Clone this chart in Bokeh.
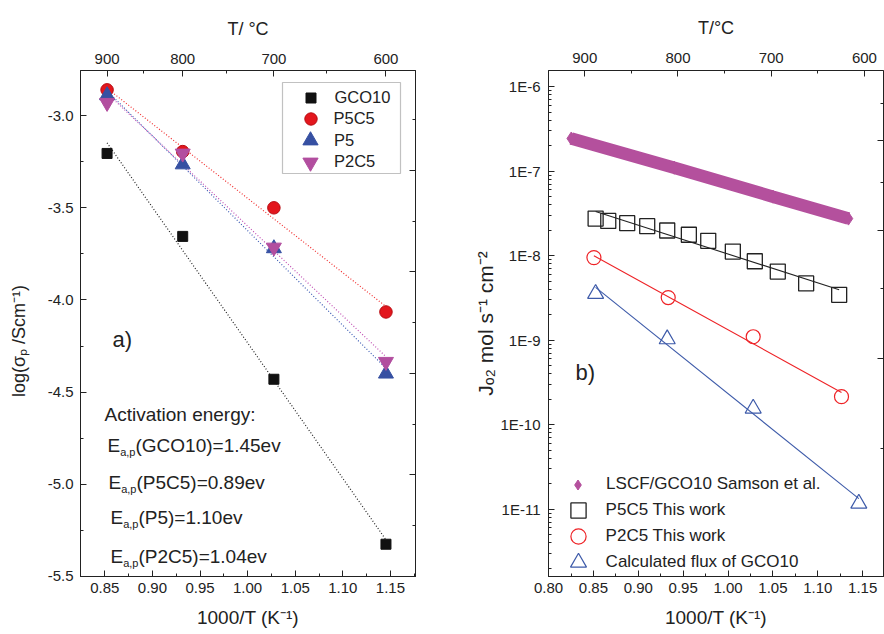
import numpy as np
from bokeh.plotting import figure
from bokeh.layouts import row
from bokeh.models import (Range1d, LinearAxis, FixedTicker, SingleIntervalTicker,
                          CustomJSTickFormatter, NumeralTickFormatter, Label, Legend,
                          LegendItem, BoxAnnotation)
from bokeh.embed import file_html
from bokeh.resources import INLINE

# ---------------- data: panel a ----------------
temps_a = [900, 800, 700, 600]                 # measuring temperatures (deg C)
gco10_log = [-3.205, -3.655, -4.43, -5.325]
p5c5_log = [-2.86, -3.195, -3.50, -4.065]
p5_log = [-2.89, -3.265, -3.72, -4.40]
p2c5_log = [-2.93, -3.205, -3.715, -4.335]
names_a = ["GCO10", "P5C5", "P5", "P2C5"]
ea_values = ["1.45", "0.89", "1.10", "1.04"]
top_major_T = [900, 800, 700, 600]
top_minor_T = [850, 750, 650]

# ---------------- data: panel b ----------------
lscf_x = [0.8253, 0.94, 1.05, 1.1341]
lscf_J = [2.44e-7, 1.1e-7, 5.0e-8, 2.75e-8]
p5c5_x = [0.8524, 0.8665, 0.8876, 0.9099, 0.9322, 0.9563, 0.9779, 1.0053,
          1.0298, 1.0554, 1.0870, 1.1238]
p5c5_J = [2.75e-8, 2.58e-8, 2.43e-8, 2.24e-8, 1.99e-8, 1.77e-8, 1.50e-8,
          1.12e-8, 8.6e-9, 6.5e-9, 4.7e-9, 3.45e-9]
p2c5_x = [0.8505, 0.9333, 1.028, 1.1264]
p2c5_J = [9.5e-9, 3.2e-9, 1.1e-9, 2.15e-10]
gco_x = [0.8524, 0.9322, 1.028, 1.1457]
gco_J = [3.55e-9, 1.03e-9, 1.56e-10, 1.17e-11]
names_b = ["LSCF/GCO10 Samson et al.", "P5C5 This work", "P2C5 This work",
           "Calculated flux of GCO10"]
decades_b = [-11, -10, -9, -8, -7, -6]

# ---------------- styling / layout constants ----------------
FONT = "Liberation Sans"
INK = "#222222"
NB = "\u00a0"

WID = {' ': 278, '(': 333, ')': 333, '/': 278, '-': 333, '.': 278, ',': 278, '=': 584,
       ':': 278, 'A': 667, 'C': 722, 'E': 667, 'G': 778, 'O': 778, 'P': 667,
       'a': 556, 'c': 500, 'e': 556, 'g': 556, 'i': 222, 'n': 556, 'o': 556, 'p': 556,
       'r': 333, 't': 278, 'v': 500, 'y': 500}


def tw(text, size):
    return sum(WID.get(c, 556) for c in text) * size / 1000.0


def rich(p, pieces, x, y, color=INK):
    adv = 0.0
    for text, size, shift in pieces:
        p.add_layout(Label(x=x + adv, y=y + shift, x_units="screen", y_units="screen",
                           text=text, text_font=FONT, text_font_size=f"{size}px",
                           text_color=color, text_align="left",
                           text_baseline="alphabetic"))
        adv += tw(text, size)


def fa(rx, ry):
    return rx - 80, 576 - ry


def fb(rx, ry):
    return (rx - 548) * 335 / 336.0, 576 - ry


def style_axis(ax, standoff=7):
    ax.major_tick_in = 6
    ax.major_tick_out = 0
    ax.minor_tick_in = 3
    ax.minor_tick_out = 0
    ax.axis_line_color = INK
    ax.major_tick_line_color = INK
    ax.minor_tick_line_color = INK
    ax.major_label_text_font = FONT
    ax.major_label_text_font_size = "15px"
    ax.major_label_text_color = INK
    ax.major_label_standoff = standoff
    ax.axis_label_text_font = FONT
    ax.axis_label_text_font_style = "normal"
    ax.axis_label_text_font_size = "18px"
    ax.axis_label_text_color = INK


def hidden_right_axis(p, top):
    p.extra_y_ranges = {"r": Range1d(0, top)}
    ax = LinearAxis(y_range_name="r", ticker=SingleIntervalTicker(interval=1, num_minor_ticks=2))
    style_axis(ax, standoff=0)
    ax.major_label_overrides = {0: "", 1: "", 2: "", 3: "", 4: ""}
    ax.major_label_text_alpha = 0
    ax.major_label_text_font_size = "1px"
    p.add_layout(ax, "right")


def single_legend(p, renderer, label, cx, cy, msize, text_x, font_size):
    g = int(round(msize / 0.4))
    leg = Legend(items=[LegendItem(label=label, renderers=[renderer])],
                 location=(cx - g / 2.0, cy - g / 2.0),
                 glyph_width=g, glyph_height=g, label_height=g,
                 label_standoff=max(int(round(text_x - (cx + g / 2.0))), 0),
                 padding=0, margin=0, spacing=0,
                 border_line_color=None, background_fill_alpha=0,
                 label_text_font=FONT, label_text_font_size=font_size,
                 label_text_color=INK)
    p.add_layout(leg)


def fit_line(x, y, log=False):
    x = np.asarray(x, dtype=float)
    yy = np.log10(y) if log else np.asarray(y, dtype=float)
    k, b = np.polyfit(x, yy, 1)
    xs = np.array([x.min(), x.max()])
    ys = k * xs + b
    return xs, (10 ** ys if log else ys)


def base_fig(p):
    p.xgrid.visible = False
    p.ygrid.visible = False
    p.outline_line_color = INK
    p.background_fill_color = "white"
    p.border_fill_color = "white"


# =============== panel a ===============
inv_T_a = [1000.0 / (t + 273.15) for t in temps_a]

pa = figure(width=440, height=634, x_range=Range1d(0.8245, 1.1763),
            y_range=Range1d(-5.5001, -2.755), output_backend="svg",
            toolbar_location=None, min_border_left=80, min_border_right=25,
            min_border_top=70, min_border_bottom=58)
base_fig(pa)

style_axis(pa.xaxis[0], standoff=6)
pa.xaxis[0].ticker = SingleIntervalTicker(interval=0.05, num_minor_ticks=2)
pa.xaxis[0].formatter = NumeralTickFormatter(format="0.00")
pa.xaxis[0].axis_label = "1000/T (K\u207b\u00b9)"
pa.xaxis[0].axis_label_text_font_size = "19px"
pa.xaxis[0].axis_label_standoff = 11
style_axis(pa.yaxis[0], standoff=7)
pa.yaxis[0].ticker = SingleIntervalTicker(interval=0.5, num_minor_ticks=2)
pa.yaxis[0].formatter = NumeralTickFormatter(format="0.0")
pa.yaxis[0].axis_label = "log(\u03c3\u209a /Scm\u207b\u00b9)" + NB * 7
pa.yaxis[0].axis_label_standoff = 16

top_a = LinearAxis(ticker=FixedTicker(ticks=[1000.0 / (t + 273.15) for t in top_major_T],
                                      minor_ticks=[1000.0 / (t + 273.15) for t in top_minor_T]),
                   formatter=CustomJSTickFormatter(code="return (1000/tick - 273.15).toFixed(0);"),
                   axis_label="T/ \u00b0C")
style_axis(top_a, standoff=7)
top_a.axis_label_standoff = 12
pa.add_layout(top_a, "above")
hidden_right_axis(pa, 4.985)

cols_a = ["#111111", "#e3161d", "#3650a2", "#b24e9f"]
line_cols_a = ["#222222", "#f03030", "#3c5cb4", "#c050b4"]
series_a = [gco10_log, p5c5_log, p5_log, p2c5_log]
for ys, lc in zip(series_a, line_cols_a):
    xs_f, ys_f = fit_line(inv_T_a, ys)
    pa.line(xs_f, ys_f, line_color=lc, line_width=1.2, line_dash="1 2")

r_gco = pa.scatter(inv_T_a, gco10_log, marker="square", size=10,
                   fill_color=cols_a[0], line_color=cols_a[0])
r_p5c5 = pa.scatter(inv_T_a, p5c5_log, marker="circle", size=12.5,
                    fill_color=cols_a[1], line_color="#b80c12")
r_p5 = pa.scatter(inv_T_a, p5_log, marker="triangle", size=15,
                  fill_color=cols_a[2], line_color=cols_a[2])
r_p2c5 = pa.scatter(inv_T_a, p2c5_log, marker="inverted_triangle", size=15,
                    fill_color=cols_a[3], line_color=cols_a[3])

# legend box + items
bl, bb = fa(282, 173)
br, bt = fa(400, 82)
pa.add_layout(BoxAnnotation(left=bl, right=br, bottom=bb, top=bt,
                            left_units="screen", right_units="screen",
                            bottom_units="screen", top_units="screen",
                            fill_color="white", fill_alpha=1.0,
                            line_color="#333333", line_width=1.2))
leg_rows_a = [97.3, 118.8, 140.3, 161.8]
leg_sizes_a = [10, 12.5, 15, 15]
for rr, nm, ry, ms in zip([r_gco, r_p5c5, r_p5, r_p2c5], names_a, leg_rows_a, leg_sizes_a):
    cx, cy = fa(310, ry)
    tx, _ = fa(334, ry)
    single_legend(pa, rr, nm, cx, cy, ms, tx, "16.5px")

# texts panel a
x0, y0 = fa(112, 339)
rich(pa, [("a)", 22, 0)], x0, y0)
x0, y0 = fa(104, 414)
rich(pa, [("Activation energy:", 19, 0)], x0, y0)
ea_left = [107, 108, 110, 110]
ea_base = [445, 482, 517, 556]
for nm, ev, lx, by in zip(names_a, ea_values, ea_left, ea_base):
    x0, y0 = fa(lx, by)
    rich(pa, [("E", 19, 0), ("a,p", 11, -6), (f"({nm})={ev}ev", 19, 0)], x0, y0)

# =============== panel b ===============
pb = figure(width=444, height=634, x_range=Range1d(0.7999, 1.1732),
            y_range=Range1d(10 ** -11.796, 10 ** -5.808), y_axis_type="log",
            output_backend="svg", toolbar_location=None, min_border_left=108,
            min_border_right=1, min_border_top=67, min_border_bottom=58)
base_fig(pb)

style_axis(pb.xaxis[0], standoff=6)
pb.xaxis[0].ticker = SingleIntervalTicker(interval=0.05, num_minor_ticks=2)
pb.xaxis[0].formatter = NumeralTickFormatter(format="0.00")
pb.xaxis[0].axis_label = "1000/T (K\u207b\u00b9)"
pb.xaxis[0].axis_label_text_font_size = "19px"
pb.xaxis[0].axis_label_standoff = 11
style_axis(pb.yaxis[0], standoff=8)
pb.yaxis[0].ticker = FixedTicker(ticks=[10.0 ** e for e in decades_b],
                                 minor_ticks=[m * 10.0 ** e for e in range(-12, -5)
                                              for m in range(2, 10)])
pb.yaxis[0].formatter = CustomJSTickFormatter(
    code="return '1E' + Math.round(Math.log10(tick));")
pb.yaxis[0].axis_label = "J\u2092\u2082 mol s\u207b\u00b9 cm\u207b\u00b2"
pb.yaxis[0].axis_label_text_font_size = "21px"
pb.yaxis[0].axis_label_standoff = 0

pb.extra_x_ranges = {"T": Range1d(938.9, 579.5)}
top_b = LinearAxis(x_range_name="T", ticker=SingleIntervalTicker(interval=100, num_minor_ticks=2),
                   axis_label="T/\u00b0C")
style_axis(top_b, standoff=8)
top_b.axis_label_standoff = 12
pb.add_layout(top_b, "above")
hidden_right_axis(pb, 4.99)

MAG = "#b4509d"
RED = "#ee2226"
BLUE = "#3d5aa9"
pb.line(lscf_x, lscf_J, line_color=MAG, line_width=12.5)
r_lscf = pb.scatter(lscf_x, lscf_J, marker="diamond", size=13,
                    fill_color=MAG, line_color=MAG)

for xs, ys, c in [(p5c5_x, p5c5_J, "#222222"), (p2c5_x, p2c5_J, RED), (gco_x, gco_J, BLUE)]:
    xf, yf = fit_line(xs, ys, log=True)
    pb.line(xf, yf, line_color=c, line_width=1.1)

r_sq = pb.scatter(p5c5_x, p5c5_J, marker="square", size=15, fill_color=None,
                  line_color="#222222", line_width=1.3)
r_ci = pb.scatter(p2c5_x, p2c5_J, marker="circle", size=14, fill_color=None,
                  line_color=RED, line_width=1.2)
r_tr = pb.scatter(gco_x, gco_J, marker="triangle", size=16, fill_color=None,
                  line_color=BLUE, line_width=1.2)

leg_rows_b = [484, 510, 535.7, 561.7]
leg_sizes_b = [10, 15, 15, 16]
for rr, nm, ry, ms in zip([r_lscf, r_sq, r_ci, r_tr], names_b, leg_rows_b, leg_sizes_b):
    cx, cy = fb(577.7, ry)
    tx, _ = fb(606, ry)
    single_legend(pb, rr, nm, cx, cy, ms, tx, "17px")

x0, y0 = fb(575, 372)
rich(pb, [("b)", 22, 0)], x0, y0)

layout = row(pa, pb)
open("out.html", "w").write(file_html(layout, INLINE))
